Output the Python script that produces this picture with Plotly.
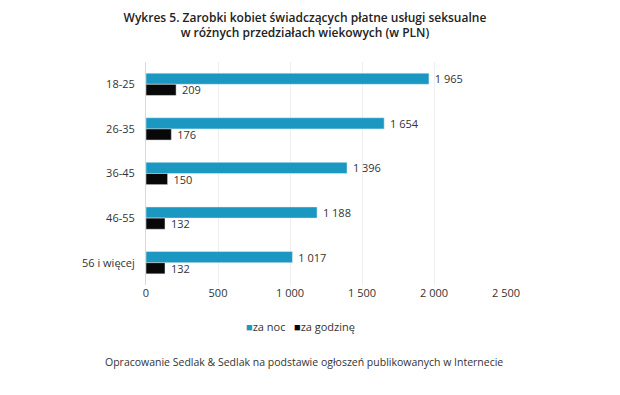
import plotly.graph_objects as go

categories = ["18-25", "26-35", "36-45", "46-55", "56 i więcej"]
za_noc = [1965, 1654, 1396, 1188, 1017]
za_godzine = [209, 176, 150, 132, 132]
x_ticks = [0, 500, 1000, 1500, 2000, 2500]
x_tick_labels = ["0", "500", "1 000", "1 500", "2 000", "2 500"]
series_names = ["za noc", "za godzinę"]
series_colors = ["#1B98C2", "#080808"]

def fmt(v):
    return f"{v:,}".replace(",", " ")

FONT = "Open Sans"
fig = go.Figure()
for name, vals, col in zip(series_names, [za_noc, za_godzine], series_colors):
    fig.add_trace(go.Bar(
        y=categories, x=vals, name=name, orientation="h",
        marker_color=col, text=[fmt(v) for v in vals],
        texttemplate=" %{text}",
        textposition="outside", constraintext="none",
        textfont=dict(size=11, color="#333333", family=FONT),
        cliponaxis=False, showlegend=False,
    ))

legend_text = "   ".join(
    f"<span style='color:{c}'>■</span>{n}" for n, c in zip(series_names, series_colors)
)

fig.update_layout(
    width=620, height=395,
    paper_bgcolor="white", plot_bgcolor="white",
    margin=dict(l=138, r=122, t=54, b=118, autoexpand=False),
    barmode="group", bargap=0.5, bargroupgap=0.0,
    font=dict(family=FONT, size=11, color="#333333"),
    title=dict(
        text="Wykres 5. Zarobki kobiet świadczących płatne usługi seksualne<br>w różnych przedziałach wiekowych (w PLN)",
        x=0.479, xanchor="center", y=0.965, yanchor="top",
        font=dict(family=FONT, size=12, color="#222222", weight=600),
    ),
    xaxis=dict(
        range=[0, 2500], tickvals=x_ticks, ticktext=x_tick_labels,
        showgrid=True, gridcolor="#eeeeee", zeroline=False,
        showline=False, ticks="", tickfont=dict(size=11, color="#333333"),
        automargin=False,
    ),
    yaxis=dict(
        autorange="reversed", showline=True, linecolor="#d9d9d9",
        ticks="", ticklabelstandoff=8, tickfont=dict(size=11, color="#333333"),
        automargin=False,
    ),
    annotations=[
        dict(
            text=legend_text, xref="paper", yref="paper", x=0.43, xanchor="center",
            y=-0.188, yanchor="middle", showarrow=False,
            font=dict(family=FONT, size=11, color="#333333"),
        ),
        dict(
            text="Opracowanie Sedlak &amp; Sedlak na podstawie ogłoszeń publikowanych w Internecie",
            xref="paper", yref="paper", x=0.44, xanchor="center",
            y=-0.345, yanchor="middle", showarrow=False,
            font=dict(family=FONT, size=10.5, color="#333333"),
        ),
    ],
)

fig.write_html("out.html")
